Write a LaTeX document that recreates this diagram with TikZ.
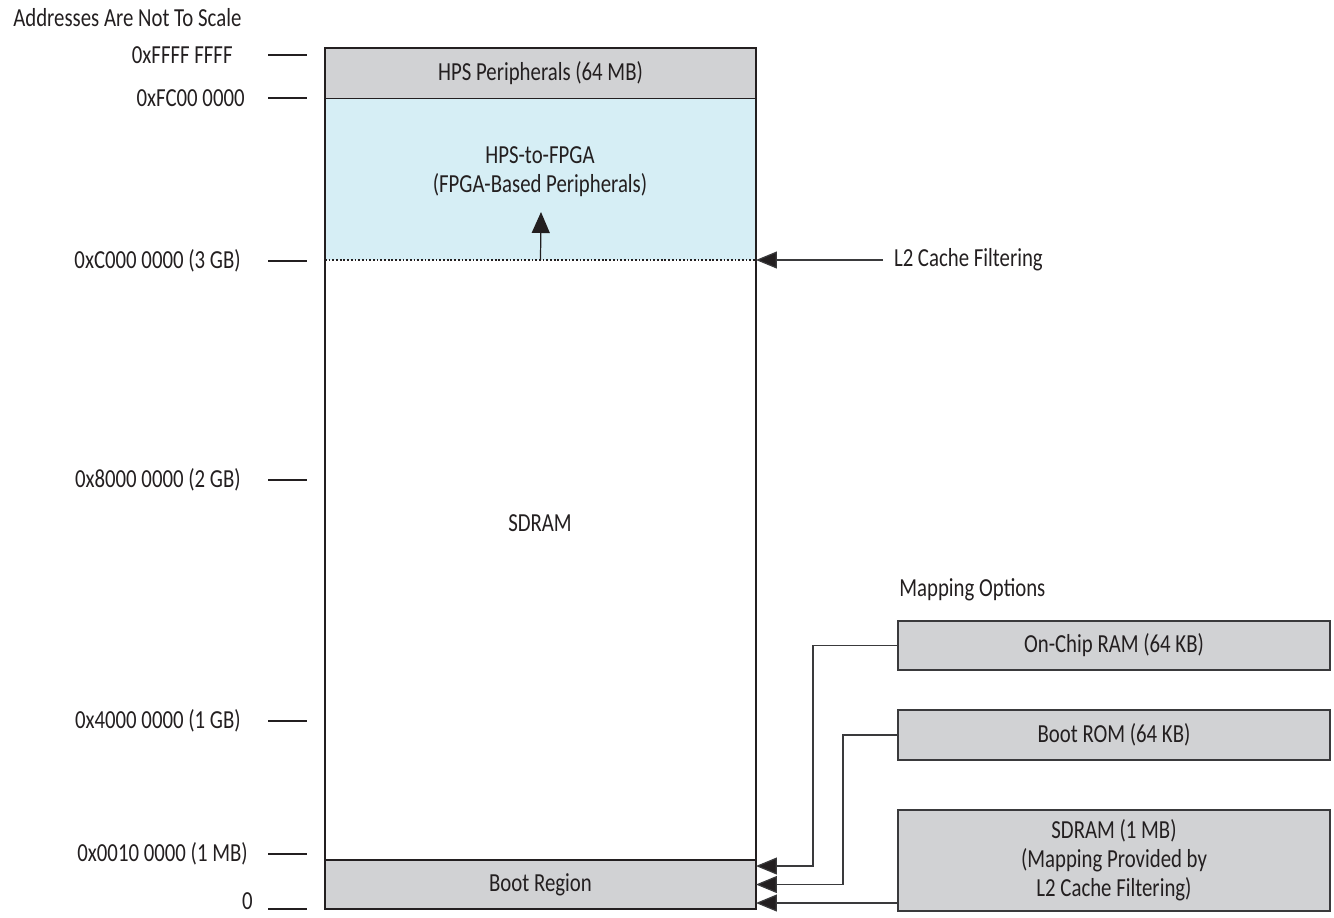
\documentclass[tikz,border=0pt]{standalone}
\usepackage{fontspec}
\setmainfont{Carlito}[FakeStretch=0.80]
\usetikzlibrary{arrows.meta,positioning}

\definecolor{hpsgray}{HTML}{D1D2D4}
\definecolor{fpgablue}{HTML}{D6EEF5}
\definecolor{inkblack}{HTML}{231F20}
\definecolor{linegray}{HTML}{3A3A3C}

\begin{document}
\begin{tikzpicture}[x=0.02cm, y=-0.02cm,
  font=\fontsize{14.8}{16.5}\selectfont, text=inkblack,
  region/.style={rectangle, draw=inkblack, line width=0.8pt, outer sep=0pt,
                 inner sep=0pt, minimum width=8.62cm},
  option/.style={rectangle, draw=linegray, line width=1pt, fill=hpsgray,
                 align=center, minimum width=8.64cm, outer sep=0pt},
  addr/.style={anchor=east, inner sep=0pt},
  tick/.style={draw=inkblack, line width=0.7pt},
  link/.style={draw=linegray, line width=0.7pt,
               -{Triangle[length=0.42cm, width=0.34cm, fill=inkblack]}},
  head/.style={-{Triangle[length=0.42cm, width=0.36cm]}, draw=inkblack, line width=0.7pt},
]
  \useasboundingbox (0,0) rectangle (1334,917);

  % Title
  \node[anchor=west, inner sep=0pt] (scale) at (13,18) {Addresses Are Not To Scale};

  % Address map regions
  \node[region, fill=hpsgray, minimum height=1.02cm] (hps) at (540.5,73.5) {HPS Peripherals (64 MB)};
  \node[region, fill=fpgablue, draw=none, minimum height=3.22cm] (fpga) at (540.5,179.5) {};
  \node[region, draw=none, minimum height=12cm] (sdram) at (540.5,560) {};
  \node[region, fill=hpsgray, minimum height=0.98cm] (boot) at (540.5,884.5) {Boot Region};
  \draw[inkblack, line width=0.6pt, dash pattern=on 1pt off 1.1pt] (fpga.south west) -- (fpga.south east);
  \draw[inkblack, line width=1.2pt] (hps.north west) rectangle (boot.south east);

  \node[align=center] (fpgatxt) at (540,172) {HPS-to-FPGA\\(FPGA-Based Peripherals)};
  \node (sdramtxt) at (540,523) {SDRAM};

  % Remap arrow inside the FPGA window
  \coordinate (upbase) at (fpga.south);
  \coordinate (uptip) at (541,212);
  \draw[head] (upbase) -- (uptip);

  % Addresses
  \foreach \lbl/\xx/\yy/\ty [count=\i] in {0xFFFF FFFF/233/55/55, 0xFC00 0000/245/98/98,
      0xC000 0000 (3 GB)/241/261/261, 0x8000 0000 (2 GB)/241/480/480,
      0x4000 0000 (1 GB)/241/721/721, 0x0010 0000 (1 MB)/248/854/854, 0/253/901/909}{
    \node[addr] (a\i) at (\xx,\yy) {\lbl};
    \draw[tick] (268,\ty) -- (307,\ty);
  }

  % L2 cache filtering
  \node[anchor=west, inner sep=0pt, outer sep=0.22cm] (l2) at (883,260) {L2 Cache Filtering};
  \draw[link] (l2.west) -- (l2.west -| fpga.east);

  % Mapping options
  \node[anchor=west, inner sep=0pt] (mapping) at (899,590) {Mapping Options};
  \node[option, minimum height=0.98cm] (onchip) at (1114,645.5) {On-Chip RAM (64 KB)};
  \node[option, minimum height=1cm] (bootrom) at (1114,735) {Boot ROM (64 KB)};
  \node[option, minimum height=2.02cm] (sdram1m) at (1114,860.5)
       {SDRAM (1 MB)\\(Mapping Provided by\\L2 Cache Filtering)};

  \coordinate (b1) at ([yshift=0.37cm]boot.east);
  \coordinate (b3) at ([yshift=-0.37cm]boot.east);
  \draw[link] (onchip.west) -- ++(-85,0) |- (b1);
  \draw[link] (bootrom.west) -- ++(-55,0) |- (boot.east);
  \draw[link] (sdram1m.west |- b3) -- (b3);

\end{tikzpicture}
\end{document}
